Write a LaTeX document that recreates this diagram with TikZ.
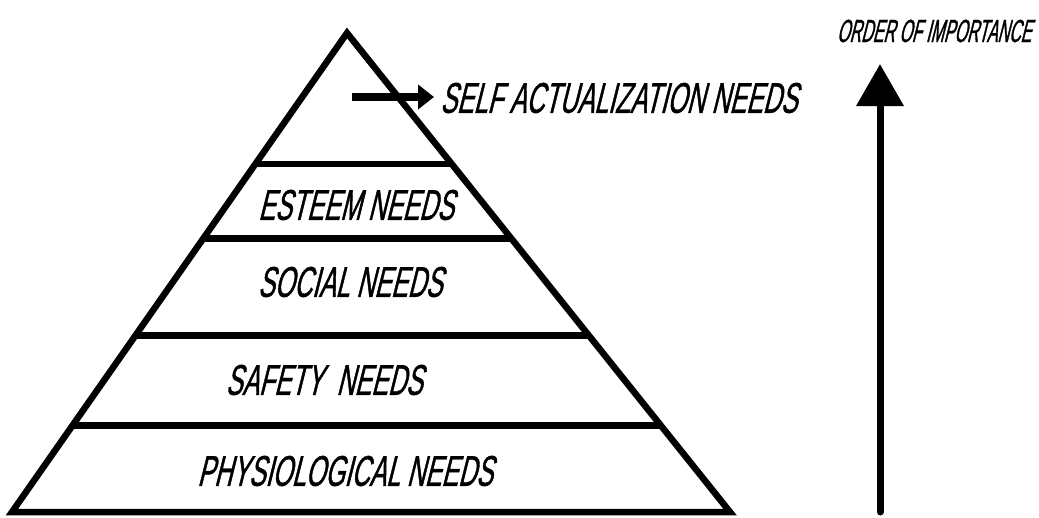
\documentclass[tikz,border=0pt]{standalone}
\usepackage{fontspec}
\newfontfamily\needsfont{Liberation Sans}[FakeSlant=0.25,FakeStretch=0.58,FakeBold=1]
\newfontfamily\orderfont{Liberation Sans}[FakeSlant=0.25,FakeStretch=0.5,FakeBold=1]
\usepackage{tikz}
\usetikzlibrary{arrows.meta}
\usetikzlibrary{calc}
\usetikzlibrary{positioning}

\tikzset{
  level/.style={line width=6.5pt},
  needs/.style={font=\needsfont\fontsize{43}{43}\selectfont, inner sep=0pt},
}

\begin{document}
\begin{tikzpicture}[x=1pt,y=-1pt]
   \useasboundingbox (0,0) rectangle (1039,517);
   \coordinate (apex) at (347,33);
   \coordinate (bl) at (12,512);
   \coordinate (br) at (730,512);
   \draw[level, line join=miter] (apex) -- (bl) -- (br) -- cycle;
   \foreach \t in {0.273,0.429,0.631,0.819}
     \draw[level] ($(apex)!\t!(bl)$) -- ($(apex)!\t!(br)$);
   % labels
   \node[needs] (esteem) at (356,205) {ESTEEM NEEDS};
   \node[needs] (social) at (350,282) {SOCIAL NEEDS};
   \node[needs] (safety) at (324,380) {SAFETY\ \ NEEDS};
   \node[needs] (physio) at (345,471) {PHYSIOLOGICAL NEEDS};
   \node[needs, anchor=west] (self) at (440,98) {SELF ACTUALIZATION NEEDS};
   \node[needs, font=\orderfont\fontsize{32}{32}\selectfont] (order) at (934,31) {ORDER OF IMPORTANCE};
   \coordinate (selftail) at (352,97);
   \draw[line width=8pt, shorten >=6pt, -{Triangle[length=16pt,width=24pt]}] (selftail) -- (selftail -| self.west);
   \coordinate (arrbot) at (880,512);
   \coordinate (arrtop) at (880,64);
   \draw[line width=7pt, line cap=round, -{Triangle[length=42pt,width=46pt]}] (arrbot) -- (arrtop);
\end{tikzpicture}
\end{document}
